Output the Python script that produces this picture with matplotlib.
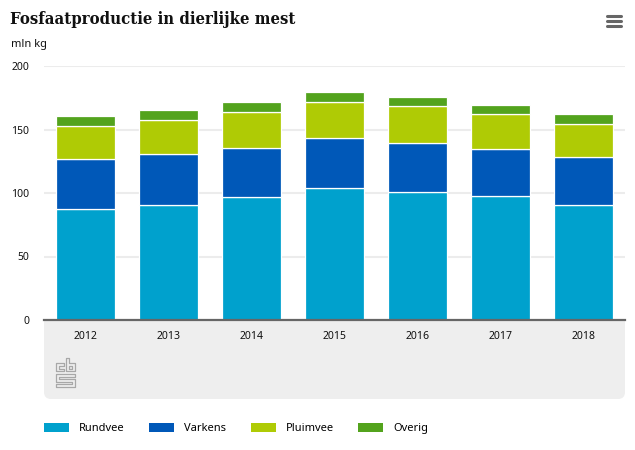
import numpy as np
import matplotlib
matplotlib.use("Agg")
import matplotlib.pyplot as plt
from matplotlib.patches import FancyBboxPatch, Rectangle, Patch

years = ["2012", "2013", "2014", "2015", "2016", "2017", "2018"]
rundvee = [87.4, 90.5, 97.0, 104.0, 100.8, 97.6, 90.5]
varkens = [39.4, 40.2, 38.4, 39.3, 38.6, 37.0, 37.8]
pluimvee = [26.0, 26.8, 28.4, 28.3, 29.1, 27.4, 26.0]
overig = [7.6, 7.5, 7.6, 8.3, 6.9, 6.9, 7.9]

series = [("Rundvee", rundvee, "#00a1cd"),
          ("Varkens", varkens, "#0058b8"),
          ("Pluimvee", pluimvee, "#afcb05"),
          ("Overig", overig, "#53a31d")]

W, H = 635, 450
plt.rcParams["font.family"] = ["Noto Sans", "DejaVu Sans"]
fig = plt.figure(figsize=(W / 100, H / 100), dpi=100)

# overlay in pixel coordinates for the panel, logo and menu icon
bg = fig.add_axes([0, 0, 1, 1], zorder=0)
bg.set_xlim(0, W)
bg.set_ylim(H, 0)
bg.axis("off")

# grey panel under the x axis, rounded at the bottom
bg.add_patch(FancyBboxPatch((44, 300), 581, 99, boxstyle="round,pad=0,rounding_size=7",
                            fc="#eeeeee", ec="none"))
bg.add_patch(Rectangle((44, 290), 581, 30, fc="white", ec="none"))

# cbs logo
logo = [
    [(64, 363), (56, 363), (56, 371), (64, 371), (64, 368.5), (59, 368.5), (59, 366), (64, 366), (64, 363)],
    [(65.5, 358), (68.5, 358), (68.5, 363), (74.5, 363), (74.5, 371), (65.5, 371), (65.5, 358)],
    [(68.5, 366), (71.5, 366), (71.5, 368.5), (68.5, 368.5), (68.5, 366)],
    [(74.5, 374), (56, 374), (56, 381.5), (71.5, 381.5), (71.5, 384), (56, 384), (56, 386.5),
     (74.5, 386.5), (74.5, 379), (59, 379), (59, 376.5), (74.5, 376.5), (74.5, 374)],
]
for pts in logo:
    xs, ys = zip(*pts)
    bg.plot(xs, ys, color="#a8a8a8", lw=0.9, solid_capstyle="butt")

# menu icon
for y in [16, 21, 26]:
    bg.plot([607, 621], [y, y], color="#666666", lw=2.2, solid_capstyle="round")

# main plot area: x 44-625, y 66-320 px
ax = fig.add_axes([44 / W, 1 - 320 / H, 581 / W, 254 / H], zorder=1)
ax.patch.set_alpha(0)
x = np.arange(len(years))
bottom = np.zeros(len(years))
for name, vals, col in series:
    ax.bar(x, vals, width=0.71, bottom=bottom, color=col, edgecolor="white",
           linewidth=0.9, zorder=3)
    bottom += np.array(vals)

ax.set_xlim(-0.5, 6.5)
ax.set_ylim(0, 200)
ax.set_yticks([0, 50, 100, 150, 200])
ax.set_xticks(x)
ax.set_xticklabels(years)
ax.grid(axis="y", color="#ececec", lw=1.5, zorder=0)
ax.set_axisbelow(True)
for s in ["top", "left", "right"]:
    ax.spines[s].set_visible(False)
ax.spines["bottom"].set_color("#666666")
ax.spines["bottom"].set_linewidth(1.6)
ax.spines["bottom"].set_zorder(5)
ax.tick_params(axis="both", length=0, labelsize=7.5, colors="#111111")
ax.tick_params(axis="x", pad=8.2)
ax.tick_params(axis="y", pad=10.5)

fig.text(10 / W, 1 - 24 / H, "Fosfaatproductie in dierlijke mest", family="DejaVu Serif",
         fontweight="bold", fontstretch="condensed", fontsize=12, color="#111111", va="baseline")
fig.text(11 / W, 1 - 47 / H, "mln kg", fontsize=8, color="#111111", va="baseline")

handles = [Patch(fc=col, ec="none", label=name) for name, _, col in series]
fig.legend(handles=handles, loc="center left", bbox_to_anchor=(44 / W, 1 - 428.5 / H),
           ncol=4, frameon=False, fontsize=8, borderaxespad=0, borderpad=0,
           handlelength=2.25, handleheight=0.9, handletextpad=0.9, columnspacing=2.2)

fig.savefig("out.png", dpi=100)
